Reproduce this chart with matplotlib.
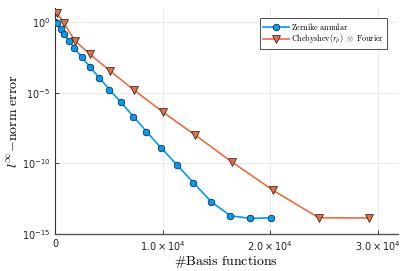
import matplotlib
matplotlib.use("Agg")
import math
import matplotlib.pyplot as plt
from matplotlib.ticker import FixedLocator, FuncFormatter, NullLocator

# Zernike annular: number of basis functions vs error
zernike_n = [30, 215, 530, 810, 1330, 1800, 2480, 3260, 4100, 5060, 6120, 7300,
             8500, 9870, 11330, 12880, 14530, 16300, 18160, 20120]
zernike_err = [1.0, 10**-0.1, 10**-0.47, 10**-0.83, 10**-1.32, 10**-1.86, 10**-2.47,
               10**-3.18, 10**-3.93, 10**-4.78, 10**-5.67, 10**-6.69, 10**-7.75,
               10**-8.9, 10**-10.1, 10**-11.37, 10**-12.72, 10**-13.7, 10**-13.9,
               10**-13.85]

# Chebyshev(r_rho) x Fourier
cheb_n = [215, 840, 1860, 3260, 5120, 7380, 10020, 13030, 16450, 20260, 24520, 29170]
cheb_err = [10**0.61, 10**-0.09, 10**-1.34, 10**-2.28, 10**-3.46, 10**-4.83,
            10**-6.36, 10**-8.0, 10**-9.9, 10**-11.9, 10**-13.85, 10**-13.87]

xticks = [0, 1e4, 2e4, 3e4]
yticks = [1e-15, 1e-10, 1e-5, 1e0]

blue = "#009AFA"
orange = "#E36F47"

fig = plt.figure(figsize=(4.07, 2.71), dpi=100)
ax = fig.add_axes([0.135, 0.1365, 0.843, 0.834])

ax.plot(zernike_n, zernike_err, color=blue, lw=1.2, marker="o", ms=4.8,
        mfc=blue, mec="#1a1a1a", mew=0.5,
        label=r"$\mathrm{Zernike\ annular}$", zorder=3)
ax.plot(cheb_n, cheb_err, color=orange, lw=1.2, marker="v", ms=5.4,
        mfc=orange, mec="#1a1a1a", mew=0.5,
        label=r"$\mathrm{Chebyshev}(r_\rho)\ \otimes\ \mathrm{Fourier}$", zorder=3)

ax.set_yscale("log")
ax.set_xlim(0, 3.19e4)
ax.set_ylim(1e-15, 10**0.99)

ax.xaxis.set_major_locator(FixedLocator(xticks))
ax.yaxis.set_major_locator(FixedLocator(yticks))
ax.yaxis.set_minor_locator(NullLocator())
ax.xaxis.set_minor_locator(NullLocator())


def xfmt(v, pos):
    if v == 0:
        return "0"
    return r"$%.1f\times10^{4}$" % (v / 1e4)


def yfmt(v, pos):
    return r"$10^{%d}$" % round(math.log10(v))


ax.xaxis.set_major_formatter(FuncFormatter(xfmt))
ax.yaxis.set_major_formatter(FuncFormatter(yfmt))
ax.tick_params(labelsize=7, direction="in", length=3, width=0.6, colors="#222222")

ax.grid(True, color="#e6e6e6", lw=0.6)
ax.set_axisbelow(True)
for s in ["top", "right"]:
    ax.spines[s].set_visible(False)
ax.spines["left"].set_color("#333333")
ax.spines["bottom"].set_color("#555555")
ax.spines["left"].set_linewidth(0.8)
ax.spines["bottom"].set_linewidth(1.0)

ax.set_xlabel(r"$\#\mathrm{Basis\ functions}$", fontsize=10, math_fontfamily="cm",
              labelpad=1)
ax.set_ylabel(r"$l^{\infty}\mathrm{-norm\ error}$", fontsize=10, math_fontfamily="cm",
              labelpad=1)

leg = ax.legend(loc="upper right", fontsize=5.8, frameon=True, fancybox=False,
                edgecolor="#333333", framealpha=1, borderpad=0.4,
                handlelength=3.2, handletextpad=0.3, labelspacing=0.1,
                bbox_to_anchor=(0.98, 0.975))
leg.get_frame().set_linewidth(0.6)
for t in leg.get_texts():
    t.set_math_fontfamily("cm")

fig.savefig("out.png", dpi=100)
